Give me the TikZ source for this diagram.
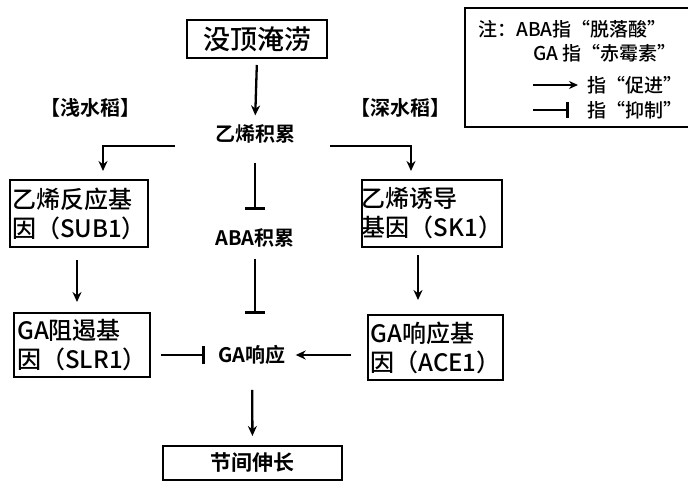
\documentclass[tikz,border=0pt]{standalone}
\usepackage{fontspec}
\setmainfont{Noto Sans CJK SC}[BoldFont={Noto Sans CJK SC Bold}]
\newfontfamily\medf{Noto Sans CJK SC Medium}
\usetikzlibrary{arrows.meta}
\begin{document}
\begin{tikzpicture}[x=1pt,y=-1pt,
  ln/.style={line width=2.3pt},
  arr/.style={ln,-{Stealth[length=10pt,width=9pt]}},
  inh/.style={ln,-{Bar[width=20pt,line width=3pt]}},
  box/.style={draw,line width=2pt,inner sep=0pt,font=\medf\fontsize{24}{29}\selectfont,align=left},
  lbl/.style={inner sep=1pt,font=\bfseries\fontsize{20}{24}\selectfont},
  leg/.style={inner sep=0pt,anchor=west,font=\medf\fontsize{19}{22}\selectfont}]
\useasboundingbox (0,0) rectangle (688,481);
% nodes
\node[box,minimum width=140pt,minimum height=38pt,font=\medf\fontsize{27}{30}\selectfont] (flood) at (257,39) {没顶淹涝};
\node[lbl] (eth) at (255,134) {乙烯积累};
\node[lbl] (shal) at (90,108) {【浅水稻】};
\node[lbl] (deep) at (400,108) {【深水稻】};
\node[box,minimum width=138pt,minimum height=67pt] (sub) at (79,213.5) {乙烯反应基\\因（SUB1）};
\node[box,minimum width=136pt,minimum height=67pt] (sk) at (432,213.5) {乙烯诱导\\基因（SK1）};
\node[lbl] (aba) at (255,238) {ABA积累};
\node[box,minimum width=136pt,minimum height=64pt] (slr) at (82,345) {GA阻遏基\\因（SLR1）};
\node[box,minimum width=135pt,minimum height=65pt] (ace) at (435.5,347.5) {GA响应基\\因（ACE1）};
\node[lbl] (gar) at (252,355) {GA响应};
\node[draw,line width=2pt,minimum width=179pt,minimum height=34pt,inner sep=0pt,font=\bfseries\fontsize{21}{24}\selectfont] (elong) at (252.5,463) {节间伸长};
% coordinates for branch arrows
\coordinate (lt) at (175,146);
\coordinate (lb) at (103,171);
\coordinate (rt) at (330,146);
\coordinate (rb) at (411,171);
\draw[arr] (lt) -| (lb);
\draw[arr] (rt) -| (rb);
\draw[arr,shorten <=6pt,shorten >=8pt] (flood.south) -- (eth.north);
\draw[inh,shorten <=18pt,shorten >=17pt] (eth.south) -- (aba.north);
\draw[inh,shorten <=10pt,shorten >=30pt] (aba.south) -- (aba.south |- gar.north);
\coordinate (s1) at (77,260);
\coordinate (s2) at (77,302);
\draw[arr] (s1) -- (s2);
\coordinate (k1) at (418,255);
\coordinate (k2) at (418,300);
\draw[arr] (k1) -- (k2);
\draw[ln,-{Bar[width=18pt,line width=3pt]},shorten <=10pt,shorten >=12pt] (slr.east |- gar.west) -- (gar.west);
\draw[arr,shorten <=16pt,shorten >=9pt] (ace.west |- gar.east) -- (gar.east);
\draw[arr,shorten <=24pt,shorten >=9pt] (gar.south) -- (elong.north);
% legend
\draw[line width=2pt] (688,8) -- (465,8) -- (465,127) -- (688,127);
\node[leg] (l1) at (478,29) {注：ABA指“脱落酸”};
\node[leg] (l2) at (533,53) {GA 指“赤霉素”};
\coordinate (a1) at (533,85);
\coordinate (a2) at (578,85);
\draw[arr,-{Stealth[length=9pt,width=8pt]}] (a1) -- (a2);
\node[leg] (l3) at (587,85) {指“促进”};
\coordinate (b1) at (533,110);
\coordinate (b2) at (569,110);
\draw[ln,-{Bar[width=16pt,line width=2.6pt]}] (b1) -- (b2);
\node[leg] (l4) at (587,110) {指“抑制”};
\end{tikzpicture}
\end{document}
